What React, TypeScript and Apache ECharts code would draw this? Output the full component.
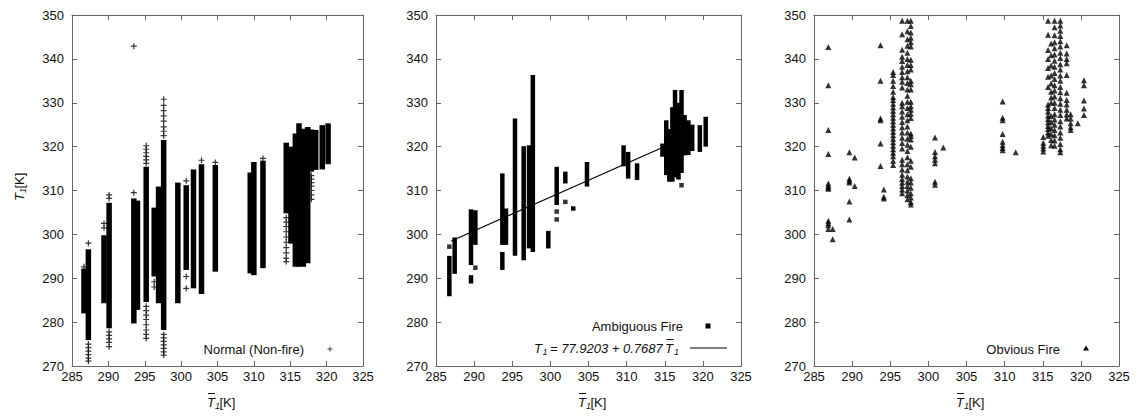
import React, { useEffect, useRef } from "react";
import * as echarts from "echarts";

const FONT = "Liberation Sans, Arial, Helvetica, sans-serif";

// axis ranges / ticks
const X_MIN = 285;
const X_MAX = 325;
const X_STEP = 5;
const Y_MIN = 270;
const Y_MAX = 350;
const Y_STEP = 10;

// Normal (non-fire): dense columns of "+" markers [T1bar, lowest T1, highest T1]
const normalColumns: [number, number, number][] = [
  [286.65, 282.0, 292.2],
  [287.25, 275.9, 296.6],
  [289.4, 284.3, 299.8],
  [290.1, 278.6, 307.2],
  [293.5, 279.7, 308.2],
  [294.0, 282.8, 307.7],
  [295.2, 284.6, 315.4],
  [296.3, 290.4, 306.1],
  [296.9, 284.3, 310.9],
  [297.6, 278.2, 321.5],
  [299.55, 284.3, 311.8],
  [300.7, 291.9, 311.2],
  [301.7, 287.7, 314.8],
  [302.8, 286.4, 316.0],
  [304.7, 291.5, 315.8],
  [309.5, 291.1, 314.1],
  [310.0, 290.7, 316.5],
  [311.25, 292.3, 316.8],
  [314.45, 304.8, 320.9],
  [315.1, 297.9, 320.0],
  [315.7, 292.6, 323.0],
  [316.2, 292.6, 325.3],
  [316.8, 292.6, 324.1],
  [317.4, 293.4, 324.5],
  [317.9, 314.3, 323.9],
  [318.5, 314.7, 323.8],
  [319.4, 314.8, 324.9],
  [320.2, 316.0, 325.3],
];

// Normal (non-fire): sparse "+" markers at column ends and outliers
const normalPoints: [number, number][] = [
  [286.65, 292.6],
  [287.25, 298.0], [287.25, 275.0], [287.25, 274.2], [287.25, 273.4], [287.25, 272.6], [287.25, 271.8], [287.25, 271.1],
  [289.4, 301.5], [289.4, 302.5],
  [290.1, 308.2], [290.1, 309.0], [290.1, 277.8], [290.1, 277.0], [290.1, 276.2], [290.1, 275.4], [290.1, 274.4],
  [293.5, 309.5], [293.5, 342.9],
  [295.2, 316.2], [295.2, 317.0], [295.2, 317.8], [295.2, 318.6], [295.2, 319.4], [295.2, 320.2],
  [295.2, 283.6], [295.2, 282.6], [295.2, 281.6], [295.2, 280.6], [295.2, 279.4], [295.2, 278.2], [295.2, 277.2], [295.2, 276.3],
  [296.3, 289.2], [296.3, 288.0],
  [297.6, 322.5], [297.6, 323.5], [297.6, 324.5], [297.6, 325.8], [297.6, 327.0], [297.6, 328.2], [297.6, 329.4], [297.6, 330.8],
  [297.6, 277.2], [297.6, 276.4], [297.6, 275.6], [297.6, 274.8], [297.6, 274.0], [297.6, 273.2], [297.6, 272.5],
  [300.7, 312.2], [300.7, 290.4], [300.7, 287.7],
  [302.8, 316.9],
  [304.7, 316.4],
  [311.25, 317.3],
  [314.45, 303.8], [314.45, 302.8], [314.45, 301.8], [314.45, 300.6], [314.45, 299.4], [314.45, 298.2], [314.45, 297.0], [314.45, 295.8], [314.45, 294.6], [314.45, 293.8],
  [317.9, 313.4], [317.9, 312.6], [317.9, 311.8], [317.9, 311.0], [317.9, 310.0], [317.9, 309.0], [317.9, 308.0],
];

// Ambiguous fire: stacked square markers [T1bar, lowest T1, highest T1]
const ambiguousColumns: [number, number, number][] = [
  [286.75, 285.9, 295.1],
  [287.45, 291.0, 299.3],
  [289.59, 293.0, 305.7],
  [289.59, 288.8, 290.7],
  [290.16, 297.6, 305.5],
  [293.7, 297.6, 313.9],
  [293.7, 291.9, 296.0],
  [294.18, 297.6, 305.9],
  [295.36, 295.1, 326.4],
  [296.5, 294.1, 320.1],
  [297.2, 296.8, 320.3],
  [297.7, 296.0, 336.3],
  [299.73, 296.8, 300.8],
  [300.83, 306.7, 315.4],
  [301.96, 311.6, 314.3],
  [303.0, 305.4, 306.4],
  [304.8, 310.9, 316.5],
  [309.6, 315.5, 320.3],
  [310.2, 312.7, 318.8],
  [311.37, 312.4, 316.2],
  [314.7, 317.7, 320.7],
  [315.2, 313.5, 326.0],
  [315.6, 312.0, 324.0],
  [316.0, 312.0, 329.0],
  [316.35, 313.0, 332.9],
  [316.8, 312.5, 330.0],
  [317.2, 314.0, 332.9],
  [317.6, 318.0, 327.2],
  [318.1, 318.1, 326.0],
  [318.6, 319.0, 325.0],
  [319.6, 318.8, 324.9],
  [320.37, 320.0, 326.8],
];

// Ambiguous fire: isolated squares
const ambiguousPoints: [number, number][] = [
  [286.75, 297.2],
  [290.16, 292.4],
  [300.83, 305.2],
  [300.83, 303.4],
  [301.96, 307.4],
  [317.2, 311.2],
];

// fitted line T1 = 77.9203 + 0.7687 T1bar (end points)
const fitLine: [number, number][] = [
  [287.0, 298.5],
  [314.7, 319.8],
];

// Obvious fire: triangles, grouped by T1bar
const obviousColumns: [number, number[]][] = [
  [286.88, [342.7, 334.0, 323.8, 318.3, 311.6, 311.1, 310.7, 310.4, 303.1, 302.6, 302.1, 301.2]],
  [287.45, [301.2, 298.9]],
  [289.64, [318.7, 312.7, 312.2, 311.8, 307.5, 303.4]],
  [290.34, [317.5, 311.0]],
  [293.72, [343.1, 335.0, 326.4, 326.0, 320.7, 315.6]],
  [294.16, [310.2, 308.6, 308.2]],
  [295.38, [337.0, 336.3, 335.0, 333.8, 332.5, 331.3, 330.6, 329.8, 329.0, 328.2, 327.4, 326.6, 325.8, 325.0, 324.2, 323.4, 322.6, 321.8, 321.0, 320.2, 319.4, 318.6, 317.8, 316.8, 315.8]],
  [296.56, [348.7, 345.6, 342.1, 340.5, 339.5, 338.2, 337.0, 335.8, 334.8, 333.5, 330.0, 329.2, 328.0, 326.8, 325.6, 324.4, 323.2, 322.0, 320.8, 319.6, 317.0, 316.0, 314.8, 313.6, 312.6, 311.8, 311.0, 310.2, 309.4]],
  [297.25, [348.7, 346.3, 344.5, 343.0, 341.4, 340.0, 338.6, 337.2, 335.8, 334.5, 333.0, 331.6, 330.2, 328.8, 327.4, 326.0, 324.6, 323.2, 321.8, 320.4, 319.0, 317.6, 316.0, 314.6, 313.2, 312.0, 311.0, 310.0, 309.0, 308.0]],
  [297.7, [348.7, 347.5, 346.0, 344.8, 343.8, 342.8, 339.8, 338.6, 337.6, 335.0, 334.2, 333.0, 330.2, 329.2, 328.4, 327.5, 326.5, 323.0, 322.4, 321.6, 320.0, 316.8, 315.4, 312.8, 311.8, 310.6, 309.4, 308.4, 307.4, 306.8]],
  [300.87, [322.1, 318.8, 317.8, 317.0, 316.2, 312.0, 311.3]],
  [301.96, [319.8]],
  [309.74, [330.3, 326.6, 326.0, 322.9, 321.1, 320.3, 319.7, 319.2]],
  [311.45, [318.7]],
  [315.07, [322.2, 320.9, 320.2, 319.6, 318.9]],
  [315.7, [348.7, 345.5, 342.0, 340.0, 337.9, 335.9, 333.6, 329.6, 328.8, 328.0, 327.1, 326.3, 325.5, 324.7, 324.0, 323.2, 322.5]],
  [316.1, [343.5, 340.8, 338.5, 336.2, 334.4, 332.5, 331.2, 330.0, 327.0, 325.6, 324.2, 322.8, 321.5, 320.3]],
  [316.55, [348.7, 347.2, 345.4, 343.8, 342.4, 341.0, 339.6, 338.2, 336.8, 335.4, 334.0, 332.8, 331.4, 330.0, 328.8, 327.4, 326.2, 325.0, 323.8, 322.6, 321.4, 320.2]],
  [317.3, [348.7, 347.6, 346.4, 345.2, 344.0, 342.8, 341.4, 340.2, 338.8, 337.6, 336.2, 335.0, 333.6, 332.4, 331.0, 329.8, 328.4, 327.2, 325.8, 324.6, 323.2, 322.0, 320.6, 319.4, 318.7]],
  [318.14, [343.1, 341.2, 340.0, 339.0, 336.3, 332.3, 330.6, 329.6, 328.4, 327.3, 326.4]],
  [318.66, [327.4, 326.4, 325.3, 324.4, 323.8]],
  [319.6, [325.3]],
  [320.4, [335.1, 334.0, 330.5, 328.7, 327.2]],
];

const legendNames = ["Normal (Non-fire)", "Ambiguous Fire", "Obvious Fire"];

const PLUS = "path://M4,0 H6 V4 H10 V6 H6 V10 H4 V6 H0 V4 H4 Z";

const GRIDS = [
  { left: 72, top: 15, width: 291, height: 351 },
  { left: 436, top: 15, width: 305, height: 351 },
  { left: 814, top: 15, width: 305, height: 351 },
];

const AXIS_COLOR = "#666";
const LABEL_COLOR = "#111";

function colRender(w: number) {
  return (params: any, api: any) => {
    const x = api.value(0);
    const lo = api.value(1);
    const hi = api.value(2);
    const top = api.coord([x, hi]);
    const bot = api.coord([x, lo]);
    return {
      type: "rect",
      shape: { x: top[0] - w / 2, y: top[1], width: w, height: Math.max(bot[1] - top[1], 1) },
      style: { fill: "#000" },
    };
  };
}

function txt(x: number, y: number, text: string, size: number, italic: boolean, align = "left") {
  return {
    type: "text",
    x,
    y,
    silent: true,
    style: {
      text,
      fontSize: size,
      fontStyle: italic ? "italic" : "normal",
      fontFamily: FONT,
      fill: LABEL_COLOR,
      align,
      verticalAlign: "middle",
      textAlign: align,
      textVerticalAlign: "middle",
    },
  };
}

function axisTitle(cx: number, cy: number, bar: boolean, rotation = 0) {
  const children: any[] = [
    txt(-11, 0, "T", 13, true),
    txt(-3, 4, "1", 9, true),
    txt(1.5, 0, "[K]", 13, false),
  ];
  if (bar) {
    children.push({
      type: "line",
      silent: true,
      shape: { x1: -10, y1: -8.5, x2: -3, y2: -8.5 },
      style: { stroke: LABEL_COLOR, lineWidth: 1 },
    });
  }
  return { type: "group", x: cx, y: cy, rotation, children };
}

export default function App() {
  const ref = useRef<HTMLDivElement>(null);

  useEffect(() => {
    if (!ref.current) return;
    const chart = echarts.init(ref.current, null, { renderer: "svg" });

    const xAxes: any[] = [];
    const yAxes: any[] = [];
    const pos = ["bottom", "top"];
    for (let k = 0; k < 2; k++) {
      GRIDS.forEach((_, i) => {
        xAxes.push({
          gridIndex: i,
          type: "value",
          position: pos[k],
          min: X_MIN,
          max: X_MAX,
          interval: X_STEP,
          axisLine: { show: true, onZero: false, lineStyle: { color: AXIS_COLOR, width: 1 } },
          axisTick: { show: true, inside: true, length: 5, lineStyle: { color: AXIS_COLOR } },
          axisLabel: { show: k === 0, margin: 4, fontSize: 13, color: LABEL_COLOR, fontFamily: FONT },
          splitLine: { show: false },
        });
        yAxes.push({
          gridIndex: i,
          type: "value",
          position: k === 0 ? "left" : "right",
          min: Y_MIN,
          max: Y_MAX,
          interval: Y_STEP,
          axisLine: { show: true, onZero: false, lineStyle: { color: AXIS_COLOR, width: 1 } },
          axisTick: { show: true, inside: true, length: 5, lineStyle: { color: AXIS_COLOR } },
          axisLabel: { show: k === 0, margin: 8, fontSize: 13, color: LABEL_COLOR, fontFamily: FONT },
          splitLine: { show: false },
        });
      });
    }

    const obviousPoints: [number, number][] = [];
    obviousColumns.forEach(([x, ys]) => ys.forEach((y) => obviousPoints.push([x, y])));

    const series: any[] = [
      {
        name: legendNames[0],
        type: "custom",
        xAxisIndex: 0,
        yAxisIndex: 0,
        renderItem: colRender(5.5),
        encode: { x: 0, y: [1, 2] },
        data: normalColumns,
        clip: true,
      },
      {
        name: legendNames[0] + " pts",
        type: "scatter",
        xAxisIndex: 0,
        yAxisIndex: 0,
        symbol: PLUS,
        symbolSize: 6,
        itemStyle: { color: "#000" },
        data: normalPoints,
      },
      {
        name: legendNames[1],
        type: "custom",
        xAxisIndex: 1,
        yAxisIndex: 1,
        renderItem: colRender(4.5),
        encode: { x: 0, y: [1, 2] },
        data: ambiguousColumns,
        clip: true,
      },
      {
        name: legendNames[1] + " pts",
        type: "scatter",
        xAxisIndex: 1,
        yAxisIndex: 1,
        symbol: "rect",
        symbolSize: 4.5,
        itemStyle: { color: "#000" },
        data: ambiguousPoints,
      },
      {
        name: "fit",
        type: "line",
        xAxisIndex: 1,
        yAxisIndex: 1,
        symbol: "none",
        lineStyle: { color: "#000", width: 1.2 },
        data: fitLine,
      },
      {
        name: legendNames[2],
        type: "scatter",
        xAxisIndex: 2,
        yAxisIndex: 2,
        symbol: "triangle",
        symbolSize: 6,
        itemStyle: { color: "#000" },
        data: obviousPoints,
      },
    ];

    const graphic: any[] = [
      // axis titles
      axisTitle(19, 190, false, Math.PI / 2),
      axisTitle(GRIDS[0].left + GRIDS[0].width / 2 + 0.5, 402, true),
      axisTitle(GRIDS[1].left + GRIDS[1].width / 2 + 0.5, 402, true),
      axisTitle(GRIDS[2].left + GRIDS[2].width / 2 + 0.5, 402, true),
      // legend: left
      txt(304, 349, legendNames[0], 13, false, "right"),
      {
        type: "group",
        x: 330,
        y: 349,
        silent: true,
        children: [
          { type: "line", shape: { x1: -2.5, y1: 0, x2: 2.5, y2: 0 }, style: { stroke: "#444", lineWidth: 1 } },
          { type: "line", shape: { x1: 0, y1: -2.5, x2: 0, y2: 2.5 }, style: { stroke: "#444", lineWidth: 1 } },
        ],
      },
      // legend: middle
      txt(683, 326, legendNames[1], 13, false, "right"),
      { type: "rect", silent: true, shape: { x: 705.5, y: 323.5, width: 5, height: 5 }, style: { fill: "#000" } },
      txt(534, 348, "T", 13, true),
      txt(542.5, 352, "1", 9, true),
      txt(550, 348, "= 77.9203 + 0.7687", 13, true),
      txt(665, 348, "T", 13, true),
      txt(674, 352, "1", 9, true),
      {
        type: "line",
        silent: true,
        shape: { x1: 666.5, y1: 339.5, x2: 673.5, y2: 339.5 },
        style: { stroke: LABEL_COLOR, lineWidth: 1 },
      },
      {
        type: "line",
        silent: true,
        shape: { x1: 690, y1: 348, x2: 727, y2: 348 },
        style: { stroke: "#000", lineWidth: 1.2 },
      },
      // legend: right
      txt(1060, 349, legendNames[2], 13, false, "right"),
      {
        type: "polygon",
        silent: true,
        shape: { points: [[1086, 345.5], [1089, 350.5], [1083, 350.5]] },
        style: { fill: "#000" },
      },
    ];

    chart.setOption({
      animation: false,
      backgroundColor: "#fff",
      grid: GRIDS.map((g) => ({ ...g, containLabel: false })),
      xAxis: xAxes,
      yAxis: yAxes,
      series,
      graphic,
    });

    return () => chart.dispose();
  }, []);

  return (
    <div
      ref={ref}
      style={{ position: "absolute", left: 0, top: 0, width: 1141, height: 416, background: "#fff" }}
    />
  );
}
